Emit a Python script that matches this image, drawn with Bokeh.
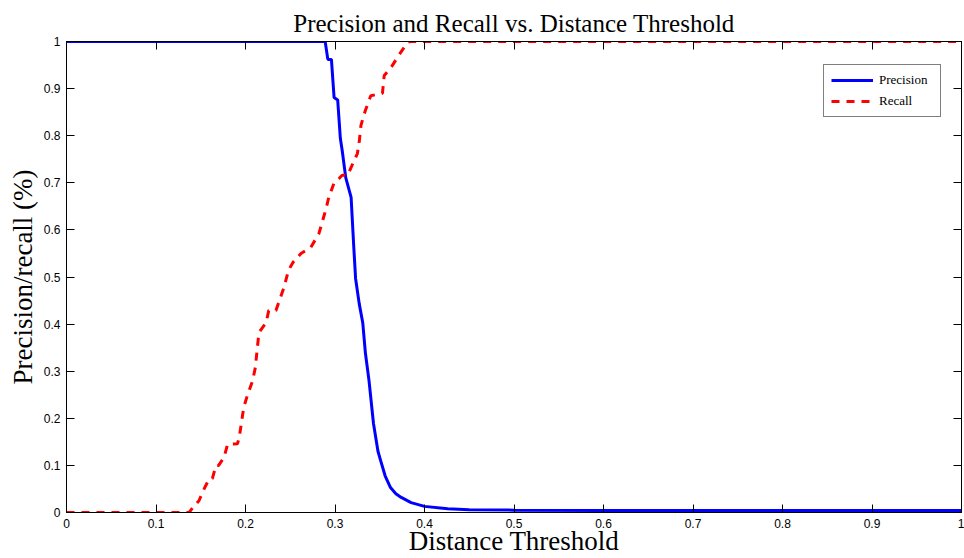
from bokeh.plotting import figure
from bokeh.models import (Range1d, FixedTicker, CustomJSTickFormatter, LinearAxis,
                          Legend, LegendItem)
from bokeh.embed import file_html
from bokeh.resources import INLINE

# ---- data ----
title_text = "Precision and Recall vs. Distance Threshold"
x_label = "Distance Threshold"
y_label = "Precision/recall (%)"
tick_values = [0, 0.1, 0.2, 0.3, 0.4, 0.5, 0.6, 0.7, 0.8, 0.9, 1]

threshold_p = [0.0, 0.289, 0.292, 0.296, 0.299, 0.303, 0.306, 0.308, 0.312, 0.318,
               0.321, 0.323, 0.327, 0.331, 0.334, 0.338, 0.343, 0.348, 0.351, 0.356,
               0.362, 0.368, 0.374, 0.385, 0.40, 0.426, 0.45, 0.5, 0.6, 0.7, 0.8, 0.9, 1.0]
precision = [1.0, 1.0, 0.962, 0.962, 0.881, 0.876, 0.794, 0.769, 0.711, 0.669,
             0.563, 0.497, 0.444, 0.403, 0.338, 0.28, 0.189, 0.13, 0.11, 0.078,
             0.053, 0.04, 0.032, 0.021, 0.013, 0.008, 0.006, 0.005, 0.004, 0.004, 0.004, 0.004, 0.004]

threshold_r = [0.0, 0.137, 0.141, 0.148, 0.153, 0.159, 0.163, 0.167, 0.170, 0.176,
               0.180, 0.191, 0.193, 0.198, 0.202, 0.208, 0.211, 0.215, 0.223, 0.226,
               0.234, 0.243, 0.248, 0.253, 0.262, 0.273, 0.282, 0.290, 0.293, 0.299,
               0.305, 0.308, 0.314, 0.320, 0.325, 0.327, 0.329, 0.334, 0.340, 0.353,
               0.355, 0.362, 0.371, 0.381, 0.384, 1.0]
recall = [0.0, 0.0, 0.01, 0.025, 0.047, 0.070, 0.072, 0.10, 0.10, 0.117,
          0.145, 0.146, 0.159, 0.223, 0.248, 0.28, 0.308, 0.382, 0.403, 0.429,
          0.429, 0.478, 0.514, 0.531, 0.55, 0.563, 0.592, 0.645, 0.669, 0.70,
          0.71, 0.716, 0.716, 0.741, 0.762, 0.786, 0.822, 0.854, 0.885, 0.89,
          0.928, 0.943, 0.97, 0.998, 1.0, 1.0]

p = figure(width=964, height=558, output_backend="svg", toolbar_location=None,
           x_range=Range1d(0, 1), y_range=Range1d(0, 1),
           min_border_left=66, min_border_right=3, min_border_top=41, min_border_bottom=46)
p.background_fill_color = "white"
p.border_fill_color = "white"
p.outline_line_color = "black"
p.outline_line_width = 1
p.xgrid.visible = False
p.ygrid.visible = False

p.title.text = title_text
p.title.text_font = "Liberation Serif"
p.title.text_font_size = "25px"
p.title.text_font_style = "normal"
p.title.text_color = "black"
p.title.align = "center"
p.title.standoff = 9

ticker = FixedTicker(ticks=tick_values)
fmt = CustomJSTickFormatter(code="return String(Math.round(tick*10)/10);")
blank = CustomJSTickFormatter(code="return '';")

for ax in (p.xaxis[0], p.yaxis[0]):
    ax.ticker = ticker
    ax.formatter = fmt
    ax.major_tick_in = 8
    ax.major_tick_out = 0
    ax.minor_tick_line_color = None
    ax.axis_line_color = "black"
    ax.major_tick_line_color = "black"
    ax.major_label_text_font = "Liberation Sans"
    ax.major_label_text_font_size = "12px"
    ax.major_label_text_color = "black"
    ax.axis_label_text_font = "Liberation Serif"
    ax.axis_label_text_font_style = "normal"
    ax.axis_label_text_font_size = "27px"
    ax.axis_label_text_color = "black"

p.xaxis[0].axis_label = x_label
p.xaxis[0].major_label_standoff = 6
p.xaxis[0].axis_label_standoff = -5
p.yaxis[0].axis_label = y_label
p.yaxis[0].major_label_standoff = 6
p.yaxis[0].axis_label_standoff = 3

for loc in ("above", "right"):
    ax = LinearAxis(ticker=ticker, formatter=blank, major_tick_in=8, major_tick_out=0,
                    minor_tick_line_color=None, major_label_standoff=0,
                    axis_line_color="black", major_tick_line_color="black",
                    major_label_text_font_size="12px")
    p.add_layout(ax, loc)

r_prec = p.line(threshold_p, precision, line_color="#0000ff", line_width=3)
r_rec = p.line(threshold_r, recall, line_color="#ff0000", line_width=3, line_dash="8 7")

legend = Legend(items=[LegendItem(label="Precision", renderers=[r_prec]),
                       LegendItem(label="Recall", renderers=[r_rec])],
                location=(757, 395))
legend.label_text_font = "Liberation Serif"
legend.label_text_font_size = "13px"
legend.label_text_color = "black"
legend.border_line_color = "black"
legend.border_line_width = 1
legend.background_fill_color = "white"
legend.background_fill_alpha = 1
legend.glyph_width = 42
legend.glyph_height = 16
legend.label_height = 16
legend.label_width = 54
legend.label_standoff = 6
legend.padding = 7
legend.spacing = 5
legend.margin = 0
p.add_layout(legend, "center")

open("out.html", "w").write(file_html(p, INLINE))
